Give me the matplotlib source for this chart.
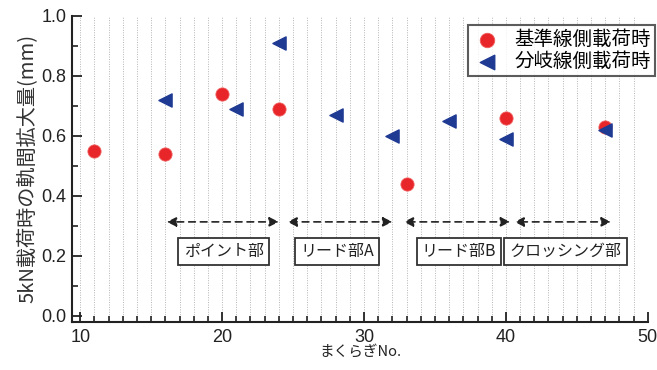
import matplotlib
matplotlib.use("Agg")
import matplotlib.pyplot as plt
from matplotlib.ticker import MultipleLocator

plt.rcParams['font.family'] = ['Noto Sans CJK JP', 'DejaVu Sans']

# data
red_x = [11, 16, 20, 24, 33, 40, 47]
red_y = [0.55, 0.54, 0.74, 0.69, 0.44, 0.66, 0.63]
blue_x = [16, 21, 24, 28, 32, 36, 40, 47]
blue_y = [0.72, 0.69, 0.91, 0.67, 0.60, 0.65, 0.59, 0.62]
legend_labels = ["基準線側載荷時", "分岐線側載荷時"]
sections = ["ポイント部", "リード部A", "リード部B", "クロッシング部"]
section_start = [16.1, 24.6, 32.8, 40.6]
section_end = [24.0, 32.0, 40.3, 47.4]
section_label_x = [20.1, 28.1, 36.7, 44.2]
arrow_y = 0.313
label_y = 0.215

fig = plt.figure(figsize=(6.57, 3.70), dpi=100)
ax = fig.add_axes([0.110, 0.130, 0.876, 0.828])

ax.set_xlim(9.44, 50.0)
ax.set_ylim(-0.02, 1.0)

ax.xaxis.set_major_locator(MultipleLocator(10))
ax.xaxis.set_minor_locator(MultipleLocator(1))
ax.yaxis.set_major_locator(MultipleLocator(0.2))
ax.yaxis.set_minor_locator(MultipleLocator(0.1))
ax.grid(True, which='both', axis='x', linestyle=(0, (1, 1.5)), color='#b5b5b5', linewidth=0.7)
ax.set_axisbelow(True)

for s in ['top', 'right']:
    ax.spines[s].set_visible(False)
for s in ['left', 'bottom']:
    ax.spines[s].set_linewidth(1.5)
    ax.spines[s].set_color('#222222')

ax.tick_params(axis='both', which='major', direction='in', length=7, width=1.3, labelsize=13, colors='#222222')
ax.tick_params(axis='both', which='minor', direction='in', length=4, width=1.2, colors='#222222')
ax.tick_params(axis='x', which='major', pad=5)
ax.tick_params(axis='y', which='major', pad=4)
ax.set_yticks([0.0, 0.2, 0.4, 0.6, 0.8, 1.0])
ax.set_yticklabels(["0.0", "0.2", "0.4", "0.6", "0.8", "1.0"])
for lab in ax.get_xticklabels() + ax.get_yticklabels():
    lab.set_family(['Liberation Sans', 'DejaVu Sans'])

ax.scatter(red_x, red_y, s=90, marker='o', color='#e8262a', edgecolors='#f05a5a', linewidths=0.6, zorder=3, label=legend_labels[0])
ax.scatter(blue_x, blue_y, s=90, marker='<', color='#1f3a93', zorder=4, label=legend_labels[1])

for xs, xe, lx, t in zip(section_start, section_end, section_label_x, sections):
    ax.annotate('', xy=(xs, arrow_y), xytext=(xe, arrow_y),
                arrowprops=dict(arrowstyle='<|-|>', linestyle=(0, (4, 3)), color='#222222',
                                lw=1.2, mutation_scale=14, shrinkA=0, shrinkB=0))
    ax.text(lx, label_y, t, ha='center', va='center', fontsize=11.5, color='#222222',
            bbox=dict(boxstyle='square,pad=0.32', facecolor='white', edgecolor='#333333', linewidth=1.3))

ax.set_xlabel("まくらぎNo.", fontsize=10.5, labelpad=-1, color='#222222')
ax.set_ylabel("5kN載荷時の軌間拡大量(mm)", fontsize=14.5, labelpad=3, color='#333333')

leg = ax.legend(loc='upper right', bbox_to_anchor=(0.997, 0.932), bbox_transform=fig.transFigure,
                fontsize=14, frameon=True, fancybox=False, markerscale=1.1,
                handletextpad=0.6, borderpad=0.2, labelspacing=0.05, handlelength=1.6, borderaxespad=0.0)
leg.get_frame().set_edgecolor('#333333')
leg.get_frame().set_linewidth(1.5)

fig.savefig('out.png', dpi=100)
